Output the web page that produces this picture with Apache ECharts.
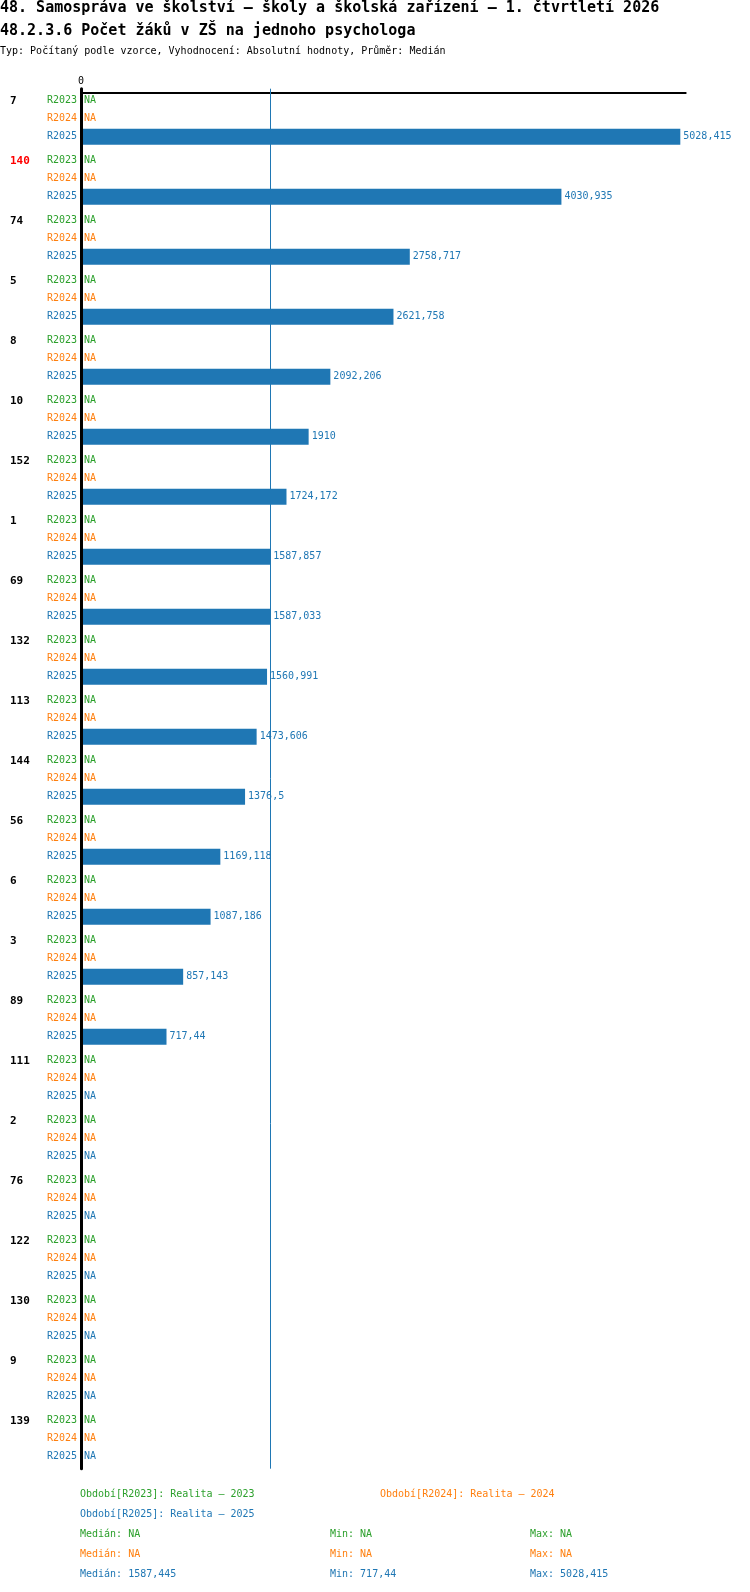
<!DOCTYPE html>
<html>
<head>
<meta charset="utf-8">
<script src="https://cdn.jsdelivr.net/npm/echarts@6/dist/echarts.min.js"></script>
<style>
  html, body { margin: 0; padding: 0; background: #fff; }
  #chart { width: 750px; height: 1592px; }
</style>
</head>
<body>
<div id="chart"></div>
<script>
// territories (category labels), top to bottom
const groups = ["7", "140", "74", "5", "8", "10", "152", "1", "69", "132", "113", "144",
  "56", "6", "3", "89", "111", "2", "76", "122", "130", "9", "139"];
const highlighted = ["140"];

const periods = ["R2023", "R2024", "R2025"];
const periodNames = ["Realita – 2023", "Realita – 2024", "Realita – 2025"];
const colors = ["#2ca02c", "#ff7f0e", "#1f77b4"];

// values per period, null = NA
const r2023 = groups.map(() => null);
const r2024 = groups.map(() => null);
const r2025 = [5028.415, 4030.935, 2758.717, 2621.758, 2092.206, 1910, 1724.172,
  1587.857, 1587.033, 1560.991, 1473.606, 1376.5, 1169.118, 1087.186, 857.143, 717.44,
  null, null, null, null, null, null, null];
const values = [r2023, r2024, r2025];

const FONT = "'DejaVu Sans Mono', monospace";

function fmt(v) {
  if (v == null) return "NA";
  return String(Math.round(v * 1000) / 1000).replace(".", ",");
}

function stats(arr) {
  const v = arr.filter(x => x != null).sort((a, b) => a - b);
  if (!v.length) return { med: null, min: null, max: null };
  const m = Math.floor(v.length / 2);
  const med = v.length % 2 ? v[m] : (v[m - 1] + v[m]) / 2;
  return { med: med, min: v[0], max: v[v.length - 1] };
}
const st = values.map(stats);

const chart = echarts.init(document.getElementById("chart"));

const series = [];
periods.forEach((p, i) => {
  const s = {
    name: p,
    type: "bar",
    yAxisIndex: 0,
    barWidth: 16,
    barGap: "12.5%",
    itemStyle: { color: colors[i] },
    data: values[i].map(v => (v == null ? 0 : v)),
    label: {
      show: true,
      position: "right",
      distance: 3,
      color: colors[i],
      fontFamily: FONT,
      fontSize: 10,
      formatter: d => fmt(values[i][d.dataIndex])
    },
    z: 2
  };
  if (i === 2 && st[2].med != null) {
    s.markLine = {
      silent: true,
      symbol: "none",
      z: 1,
      label: { show: false },
      lineStyle: { color: colors[2], width: 1, type: "solid" },
      data: [{ xAxis: st[2].med }]
    };
  }
  series.push(s);
});
// period names left of the axis
periods.forEach((p, i) => {
  series.push({
    name: p + "-name",
    type: "bar",
    yAxisIndex: 1,
    barWidth: 16,
    barGap: "12.5%",
    silent: true,
    itemStyle: { color: "transparent" },
    data: groups.map(() => 0),
    label: {
      show: true,
      position: "left",
      distance: 4,
      color: colors[i],
      fontFamily: FONT,
      fontSize: 10,
      formatter: p
    }
  });
});

const texts = [];
const legendPos = [[80, 1494], [380, 1494], [80, 1514]];
periods.forEach((p, i) => {
  texts.push({
    type: "text", x: legendPos[i][0], y: legendPos[i][1],
    style: { text: "Období[" + p + "]: " + periodNames[i],
      fill: colors[i], font: "10px " + FONT, verticalAlign: "middle" }
  });
  const y = 1534 + i * 20;
  texts.push({ type: "text", x: 80, y: y,
    style: { text: "Medián: " + fmt(st[i].med), fill: colors[i], font: "10px " + FONT, verticalAlign: "middle" } });
  texts.push({ type: "text", x: 330, y: y,
    style: { text: "Min: " + fmt(st[i].min), fill: colors[i], font: "10px " + FONT, verticalAlign: "middle" } });
  texts.push({ type: "text", x: 530, y: y,
    style: { text: "Max: " + fmt(st[i].max), fill: colors[i], font: "10px " + FONT, verticalAlign: "middle" } });
});

const option = {
  animation: false,
  backgroundColor: "#fff",
  title: [
    { text: "48. Samospráva ve školství – školy a školská zařízení – 1. čtvrtletí 2026",
      left: 0, top: 0, padding: 0,
      textStyle: { fontFamily: FONT, fontSize: 15, fontWeight: "bold", color: "#000", lineHeight: 16 } },
    { text: "48.2.3.6 Počet žáků v ZŠ na jednoho psychologa",
      left: 0, top: 23, padding: 0,
      textStyle: { fontFamily: FONT, fontSize: 15, fontWeight: "bold", color: "#000", lineHeight: 16 } },
    { text: "Typ: Počítaný podle vzorce, Vyhodnocení: Absolutní hodnoty, Průměr: Medián",
      left: 0, top: 45, padding: 0,
      textStyle: { fontFamily: FONT, fontSize: 10, fontWeight: "normal", color: "#000", lineHeight: 12 } }
  ],
  grid: { left: 81, top: 88.7, width: 604.7, height: 1380 },
  xAxis: {
    type: "value",
    position: "top",
    offset: -3.6,
    min: 0,
    max: v => v.max * 1.009,
    splitLine: { show: false },
    axisTick: { show: false },
    axisLine: { show: true, lineStyle: { color: "#000", width: 2 } },
    axisLabel: {
      margin: 6,
      fontFamily: FONT, fontSize: 10, color: "#000",
      formatter: v => (v === 0 ? "0" : "")
    }
  },
  yAxis: [
    {
      type: "category",
      inverse: true,
      data: groups,
      z: 3,
      axisLine: { show: true, lineStyle: { color: "#000", width: 3 } },
      axisTick: { show: false },
      axisLabel: {
        align: "left",
        margin: 71,
        fontFamily: FONT,
        fontSize: 11,
        fontWeight: "bold",
        verticalAlign: "bottom",
        lineHeight: 36,
        color: v => (highlighted.includes(v) ? "#ff0000" : "#000")
      }
    },
    {
      type: "category",
      inverse: true,
      data: groups,
      show: false
    }
  ],
  graphic: texts,
  series: series
};

chart.setOption(option);
</script>
</body>
</html>
